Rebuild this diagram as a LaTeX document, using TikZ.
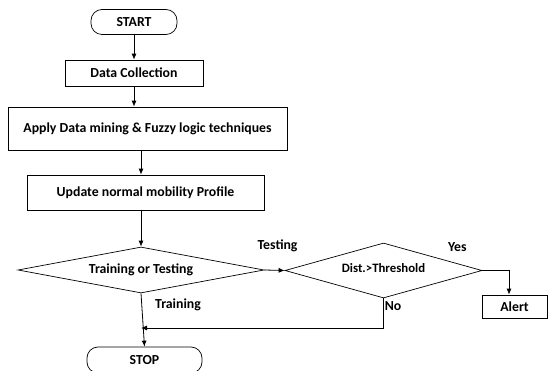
\documentclass[tikz,border=0pt]{standalone}
\usepackage{fontspec}
\setmainfont{Carlito}
\usetikzlibrary{shapes,arrows.meta}

\begin{document}
\begin{tikzpicture}[x=1pt,y=1pt,
        every node/.style={font=\fontsize{13.8}{15}\selectfont\bfseries},
        term/.style={draw,line width=0.7pt,rounded corners=11pt,minimum width=86pt,minimum height=25pt},
        box/.style={draw,line width=0.7pt,minimum height=26pt},
        choice/.style={draw,line width=0.7pt,diamond,inner sep=0pt},
        lbl/.style={inner sep=1pt},
        line/.style={-{Latex[length=6pt,width=5pt]},line width=0.8pt}]
        \useasboundingbox (0,0) rectangle (549,-371);
        \node[term] (start) at (134,-22) {START};
        \node[box,minimum width=138pt] (collect) at (134,-73) {Data Collection};
        \node[box,minimum width=279pt,minimum height=43pt] (mining) at (147.5,-128.5) {Apply Data mining \& Fuzzy logic techniques};
        \node[box,minimum width=237pt,minimum height=35pt] (update) at (145.5,-192.5) {Update normal mobility Profile};
        \node[choice,minimum width=246pt,minimum height=46pt,aspect=5.3] (decide) at (141,-270) {Training or Testing};
        \node[choice,minimum width=197pt,minimum height=55pt,aspect=3.6,font=\fontsize{12.8}{14}\selectfont\bfseries] (test) at (383.5,-270.5) {\raisebox{4pt}{Dist.>Threshold}};
        \node[box,minimum width=65pt,minimum height=23pt] (alert) at (514.5,-306.5) {Alert};
        \node[term,minimum width=115pt,minimum height=26pt] (stop) at (144.5,-360) {STOP};
        \coordinate (join) at (141,-328);
        % flow down the left side
        \draw[line] (start) -- (collect);
        \draw[line] (collect.south) -- (collect.south |- mining.north);
        \draw[line] (mining.south -| decide.north) -- (update.north -| decide.north);
        \draw[line] (update.south -| decide.north) -- (decide.north);
        \draw[line] (decide.south) -- (stop.north) node[lbl,right=12pt,pos=0.22] (training) {Training};
        % testing branch
        \draw[line] (decide.east) -- (test.west) node[lbl,above=17pt,pos=0.65] (testing) {Testing};
        \draw[line] (test.east) -| ([xshift=-5.5pt]alert.north);
        \node[lbl] (yes) at ([xshift=-25pt,yshift=23pt]test.east) {Yes};
        \draw[line] (test.south) |- (join) node[lbl,right,pos=0.13] (no) {No};
    \end{tikzpicture}
\end{document}
